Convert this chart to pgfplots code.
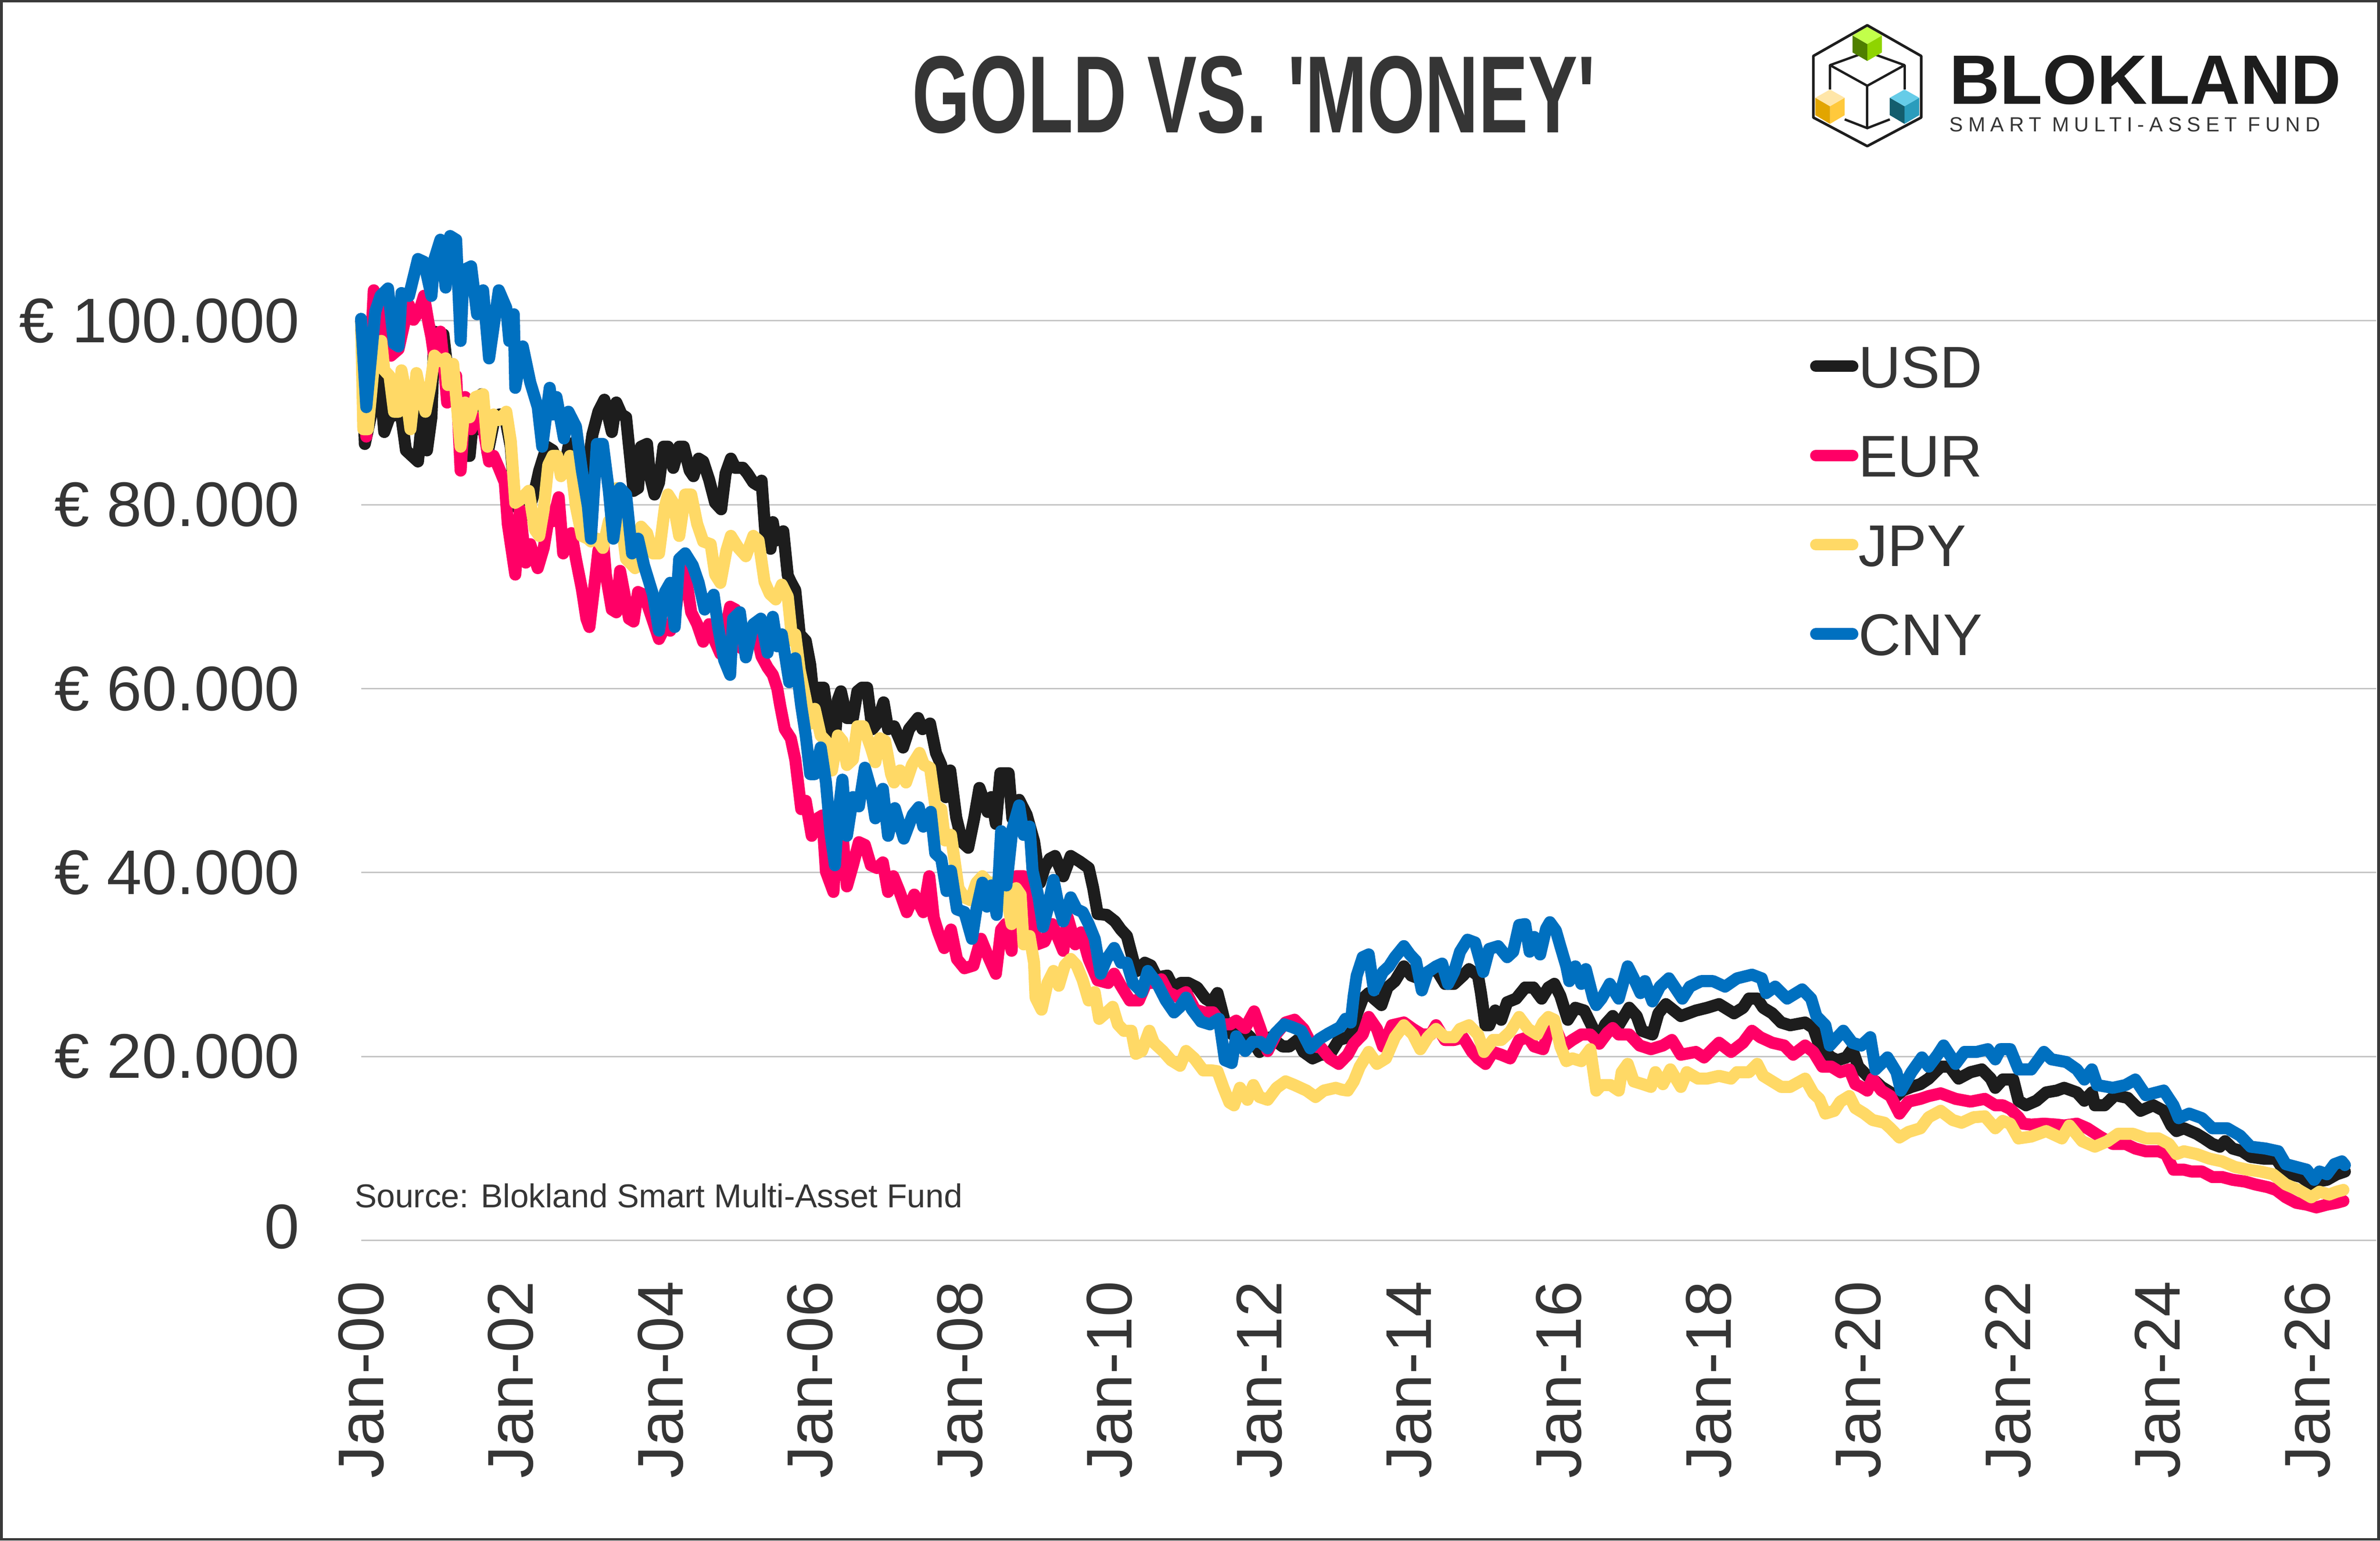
\documentclass[border=0pt]{standalone}
\usepackage{pgfplots}
\pgfplotsset{compat=1.18}
\usepackage{fontspec}
\setmainfont{Liberation Sans}
\definecolor{usd}{HTML}{1D1D1D}
\definecolor{eur}{HTML}{FF0066}
\definecolor{jpy}{HTML}{FFD966}
\definecolor{cny}{HTML}{0070C0}
\definecolor{txt}{HTML}{353535}
\definecolor{gridc}{HTML}{C4C4C4}
\definecolor{framec}{HTML}{3A3A3A}
\definecolor{gA}{HTML}{8FD400}
\definecolor{gB}{HTML}{4F7F00}
\definecolor{gC}{HTML}{C2FF4A}
\definecolor{yA}{HTML}{FFC93C}
\definecolor{yB}{HTML}{E2A500}
\definecolor{yC}{HTML}{FFE6A8}
\definecolor{tA}{HTML}{2A9CBC}
\definecolor{tB}{HTML}{145E6E}
\definecolor{tC}{HTML}{66CCE8}
\begin{document}
\begin{tikzpicture}
\path[use as bounding box, fill=white] (-68.8pt,-57.2pt) rectangle (384.7pt,236.35pt);
\draw[framec, line width=0.5pt] (-68.55pt,-56.95pt) rectangle (384.45pt,236.1pt);
\begin{axis}[
  at={(0pt,0pt)}, anchor=south west,
  scale only axis, width=384pt, height=210.3pt,
  xmin=2000, xmax=2026.92, ymin=0, ymax=120,
  clip=false,
  axis line style={draw=none}, tick style={draw=none},
  ymajorgrids, grid style={gridc, line width=0.28pt},
  ytick={0,20,40,60,80,100},
  yticklabels={\raisebox{5.4pt}{0}, € 20.000, € 40.000, € 60.000, € 80.000, € 100.000},
  xtick={2000,2002,2004,2006,2008,2010,2012,2014,2016,2018,2020,2022,2024,2026},
  xticklabels={Jan-00,Jan-02,Jan-04,Jan-06,Jan-08,Jan-10,Jan-12,Jan-14,Jan-16,Jan-18,Jan-20,Jan-22,Jan-24,Jan-26},
  ticklabel style={font=\fontsize{12}{14}\selectfont, text=txt},
  yticklabel style={anchor=east, inner sep=0pt},
  xticklabel style={rotate=90, anchor=east, inner sep=0pt, font=\fontsize{12.3}{14}\selectfont},
  yticklabel shift=11.5pt, xticklabel shift=7.5pt,
  legend style={at={(axis description cs:0.7185,0.8125)}, anchor=north west, draw=none, fill=none, inner sep=0pt,
    font=\fontsize{11.2}{13}\selectfont, text=txt, row sep=8.8pt, column sep=0pt,
    nodes={inner sep=0pt, text height=8.2pt, text depth=0pt}},
  legend cell align=left,
  legend image code/.code={\draw[#1, line width=2.2pt, line cap=round] (1.1pt,0pt) -- (8.1pt,0pt);},
  every axis plot/.append style={line width=2.3pt, line join=round, line cap=round},
]
\addplot[usd] coordinates {
(2000.00,100)(2000.05,86.6)(2000.17,91.1)(2000.24,94.6)(2000.31,87.9)(2000.38,89.5)(2000.46,89.8)(2000.54,89.5)(2000.60,85.9)(2000.68,85.3)(2000.76,84.7)(2000.82,89.8)(2000.88,85.9)(2000.94,89.5)(2000.98,98.8)
(2001.10,98.5)(2001.15,94.9)(2001.21,91.4)(2001.27,92.0)(2001.35,85.3)(2001.45,85.3)(2001.49,88.8)(2001.57,88.2)(2001.61,92.0)(2001.69,85.6)(2001.77,88.8)(2001.85,89.8)(2001.94,88.8)
(2002.00,86.3)(2002.06,79.8)(2002.12,80.8)(2002.16,79.8)(2002.22,78.9)(2002.32,81.5)(2002.38,83.7)(2002.48,86.3)(2002.56,85.9)(2002.64,84.3)(2002.71,83.4)(2002.77,86.3)(2002.87,86.9)(2002.95,83.4)
(2003.03,84.0)(2003.09,87.6)(2003.17,90.1)(2003.25,91.4)(2003.35,87.9)(2003.41,91.1)(2003.48,89.8)(2003.54,89.5)(2003.64,81.5)(2003.70,81.8)(2003.74,86.3)(2003.82,86.6)(2003.86,83.1)(2003.92,81.1)(2003.98,82.4)
(2004.04,86.3)(2004.10,86.3)(2004.17,84.0)(2004.25,86.3)(2004.31,86.3)(2004.39,83.7)(2004.44,83.1)(2004.51,85.0)(2004.57,84.7)(2004.65,82.7)(2004.73,80.2)(2004.81,79.5)(2004.87,83.4)(2004.94,85.0)
(2005.00,84.0)(2005.10,84.0)(2005.16,83.4)(2005.24,82.4)(2005.30,82.1)(2005.35,82.6)(2005.40,77.0)(2005.47,75.2)(2005.50,78.1)(2005.54,76.1)(2005.64,77.1)(2005.70,72.3)(2005.74,71.6)(2005.80,70.7)(2005.86,65.9)(2005.94,65.2)
(2006.00,62.6)(2006.06,57.8)(2006.12,60.1)(2006.18,60.1)(2006.25,56.2)(2006.31,52.3)(2006.37,58.8)(2006.41,59.7)(2006.49,56.8)(2006.57,56.8)(2006.63,59.7)(2006.69,60.1)(2006.76,60.1)(2006.83,55.6)(2006.89,56.2)(2006.98,58.5)
(2007.04,55.6)(2007.12,55.9)(2007.24,53.6)(2007.32,55.6)(2007.44,56.8)(2007.50,55.6)(2007.60,56.2)(2007.68,53.0)(2007.75,51.7)(2007.81,48.2)(2007.87,51.1)(2007.95,46.0)
(2008.03,43.3)(2008.11,42.7)(2008.19,45.9)(2008.26,49.2)(2008.37,46.6)(2008.42,48.2)(2008.48,45.3)(2008.54,50.8)(2008.65,50.8)(2008.70,45.9)(2008.79,47.9)(2008.89,46.3)(2008.99,43.4)
(2009.07,38.9)(2009.13,40.5)(2009.20,41.5)(2009.27,41.8)(2009.38,39.6)(2009.48,41.8)(2009.60,41.2)(2009.72,40.5)(2009.78,38.3)(2009.84,35.5)(2009.96,35.4)
(2010.07,34.7)(2010.15,33.8)(2010.23,33.1)(2010.31,30.6)(2010.36,29.3)(2010.47,30.2)(2010.55,29.9)(2010.63,28.6)(2010.77,28.8)(2010.85,27.5)(2010.95,28.0)
(2011.05,28.0)(2011.17,27.5)(2011.28,26.3)(2011.36,25.9)(2011.44,26.9)(2011.50,25.0)(2011.56,23.0)(2011.64,22.4)(2011.70,23.7)(2011.76,23.0)(2011.88,22.1)
(2012.00,20.5)(2012.15,22.1)(2012.31,21.1)(2012.40,21.1)(2012.51,21.8)(2012.59,20.5)(2012.71,19.8)(2012.82,20.2)(2012.94,20.2)
(2013.06,21.8)(2013.18,22.1)(2013.26,23.0)(2013.30,24.6)(2013.38,26.3)(2013.46,26.9)(2013.53,26.3)(2013.63,25.6)(2013.71,27.5)(2013.81,28.2)(2013.93,29.8)
(2014.03,28.8)(2014.13,28.5)(2014.25,29.2)(2014.36,29.5)(2014.48,27.9)(2014.60,27.9)(2014.72,28.8)(2014.80,29.5)(2014.92,28.8)(2014.96,26.9)
(2015.02,23.4)(2015.07,23.4)(2015.15,25.0)(2015.23,24.0)(2015.31,25.9)(2015.43,26.3)(2015.55,27.5)(2015.66,27.5)(2015.77,26.3)(2015.86,27.5)(2015.94,27.9)
(2016.02,26.6)(2016.12,24.0)(2016.22,25.3)(2016.34,25.0)(2016.46,23.0)(2016.54,22.1)(2016.62,23.5)(2016.72,24.4)(2016.80,23.4)(2016.94,25.3)
(2017.04,24.4)(2017.11,22.8)(2017.25,22.4)(2017.33,24.7)(2017.43,25.7)(2017.63,24.4)(2017.83,25.0)(2017.98,25.3)
(2018.14,25.7)(2018.34,24.7)(2018.46,25.3)(2018.54,26.3)(2018.65,26.3)(2018.73,25.3)(2018.85,24.7)(2018.97,23.7)
(2019.09,23.4)(2019.29,23.7)(2019.40,23.1)(2019.48,21.2)(2019.56,20.5)(2019.64,19.9)(2019.72,19.6)(2019.84,19.9)(2019.92,20.8)
(2020.00,18.9)(2020.12,17.9)(2020.23,17.3)(2020.31,16.7)(2020.39,16.3)(2020.51,15.7)(2020.59,16.3)(2020.71,16.7)(2020.83,17.0)(2020.94,17.6)
(2021.10,18.9)(2021.22,18.9)(2021.34,17.6)(2021.50,18.3)(2021.65,18.6)(2021.77,17.6)(2021.83,16.6)(2021.93,17.5)
(2022.07,17.5)(2022.14,15.2)(2022.24,14.7)(2022.38,15.2)(2022.51,16.1)(2022.65,16.3)(2022.75,16.6)(2022.92,16.1)
(2023.02,15.2)(2023.12,16.1)(2023.16,14.7)(2023.29,14.7)(2023.43,15.8)(2023.60,15.5)(2023.77,14.1)(2023.94,14.7)
(2024.08,14.1)(2024.18,12.5)(2024.25,11.9)(2024.35,12.2)(2024.52,11.6)(2024.62,11.1)(2024.73,10.5)(2024.83,10.2)(2024.90,10.8)
(2025.00,10.0)(2025.13,9.7)(2025.24,9.1)(2025.41,8.9)(2025.58,8.9)(2025.68,7.7)(2025.78,7.2)(2025.92,6.9)
(2026.05,6.1)(2026.12,6.4)(2026.26,6.6)(2026.39,7.2)(2026.50,7.5)
};
\addlegendentry{USD}
\addplot[eur] coordinates {
(2000.00,100)(2000.07,87.4)(2000.17,103.3)(2000.24,101.4)(2000.31,98.5)(2000.40,96.2)(2000.50,96.9)(2000.58,99.8)(2000.64,101.7)(2000.70,100.1)(2000.78,101.1)(2000.84,102.7)(2000.90,99.8)(2000.94,98.2)(2000.98,95.9)
(2001.06,98.8)(2001.12,94.0)(2001.15,91.1)(2001.21,93.3)(2001.27,94.0)(2001.33,83.7)(2001.39,91.7)(2001.47,88.2)(2001.53,89.5)(2001.63,88.5)(2001.71,84.7)(2001.77,85.3)(2001.84,84.0)(2001.92,82.4)(2001.96,77.9)
(2002.06,72.4)(2002.12,79.5)(2002.20,73.7)(2002.26,75.7)(2002.36,73.1)(2002.44,75.3)(2002.52,79.2)(2002.56,78.2)(2002.64,80.8)(2002.70,74.7)(2002.75,76.6)(2002.81,76.9)(2002.87,74.1)(2002.95,70.8)
(2003.01,67.6)(2003.05,66.7)(2003.13,72.1)(2003.17,75.0)(2003.23,76.3)(2003.27,72.4)(2003.35,68.6)(2003.41,68.3)(2003.46,72.8)(2003.52,70.2)(2003.58,67.6)(2003.64,67.3)(2003.70,70.5)(2003.78,70.2)(2003.86,68.3)(2003.98,65.4)
(2004.06,66.7)(2004.13,66.3)(2004.21,68.9)(2004.29,74.4)(2004.37,70.5)(2004.41,68.3)(2004.49,67.0)(2004.57,65.1)(2004.65,67.0)(2004.73,65.1)(2004.80,63.8)(2004.93,68.9)
(2005.00,68.6)(2005.08,64.4)(2005.16,66.3)(2005.28,66.0)(2005.35,63.5)(2005.43,62.3)(2005.50,61.5)(2005.56,60.0)(2005.60,58.1)(2005.66,55.6)(2005.74,54.6)(2005.80,52.3)(2005.88,46.9)(2005.94,47.8)
(2006.02,44.0)(2006.10,45.9)(2006.16,46.2)(2006.21,40.1)(2006.31,37.9)(2006.37,45.9)(2006.43,44.3)(2006.49,38.5)(2006.57,40.8)(2006.65,43.3)(2006.73,43.0)(2006.81,40.8)(2006.89,40.5)(2006.97,41.1)
(2007.04,37.9)(2007.11,39.6)(2007.19,38.0)(2007.29,35.7)(2007.39,37.6)(2007.51,35.7)(2007.59,39.6)(2007.65,35.1)(2007.71,33.5)(2007.79,31.8)(2007.88,33.8)(2007.96,30.6)
(2008.06,29.6)(2008.18,29.9)(2008.28,32.8)(2008.36,31.2)(2008.48,29.0)(2008.55,33.8)(2008.61,34.4)(2008.69,31.5)(2008.75,39.6)(2008.85,39.6)(2008.93,37.0)
(2009.03,32.2)(2009.13,32.5)(2009.23,34.4)(2009.30,33.1)(2009.38,31.5)(2009.44,35.1)(2009.54,32.2)(2009.62,33.5)(2009.72,30.6)(2009.84,28.3)(2009.98,28.0)
(2010.06,29.0)(2010.15,27.7)(2010.27,26.1)(2010.39,26.1)(2010.49,28.0)(2010.59,28.0)(2010.69,28.4)(2010.78,27.0)(2010.90,26.5)
(2011.02,27.0)(2011.14,25.1)(2011.26,24.8)(2011.38,24.8)(2011.50,23.5)(2011.61,23.5)(2011.69,23.9)(2011.81,23.1)(2011.93,24.9)
(2012.01,23.1)(2012.11,20.6)(2012.23,22.5)(2012.35,23.7)(2012.47,24.0)(2012.59,23.0)(2012.71,21.1)(2012.82,21.0)(2012.94,19.8)
(2013.06,19.2)(2013.18,20.2)(2013.26,21.4)(2013.38,22.4)(2013.46,24.3)(2013.57,23.0)(2013.65,21.1)(2013.77,23.4)(2013.93,23.7)
(2014.05,23.0)(2014.17,22.4)(2014.29,22.4)(2014.36,23.4)(2014.48,21.8)(2014.60,21.8)(2014.72,22.1)(2014.84,20.5)(2014.92,19.8)
(2015.02,19.2)(2015.12,20.5)(2015.23,20.2)(2015.35,19.8)(2015.47,21.8)(2015.59,22.1)(2015.67,21.1)(2015.79,20.8)(2015.86,22.7)(2015.94,23.4)
(2016.06,21.1)(2016.18,21.8)(2016.30,22.4)(2016.42,22.4)(2016.54,21.4)(2016.65,22.6)(2016.72,23.1)(2016.80,22.4)(2016.94,22.4)
(2017.08,21.2)(2017.23,20.8)(2017.39,21.2)(2017.51,21.8)(2017.63,20.2)(2017.83,20.5)(2017.94,19.9)
(2018.14,21.5)(2018.30,20.5)(2018.46,21.5)(2018.58,22.8)(2018.69,22.1)(2018.85,21.5)
(2019.01,21.2)(2019.13,20.2)(2019.29,21.2)(2019.40,20.5)(2019.52,18.9)(2019.64,18.9)(2019.76,18.3)(2019.88,18.6)(2019.96,17.0)
(2020.04,16.7)(2020.12,16.3)(2020.19,17.6)(2020.31,16.3)(2020.43,15.7)(2020.55,13.8)(2020.67,15.1)(2020.83,15.4)(2020.94,15.7)
(2021.10,16.0)(2021.30,15.4)(2021.50,15.1)(2021.69,15.4)(2021.83,14.7)(2021.93,14.7)
(2022.03,14.3)(2022.14,13.4)(2022.20,12.7)(2022.31,12.6)(2022.48,12.7)(2022.65,12.6)(2022.75,12.5)(2022.92,12.7)
(2023.06,12.2)(2023.23,11.3)(2023.40,10.5)(2023.57,10.5)(2023.70,10.0)(2023.84,9.7)
(2024.01,9.7)(2024.11,9.4)(2024.21,7.7)(2024.35,7.7)(2024.45,7.5)(2024.59,7.5)(2024.73,6.9)(2024.86,6.9)
(2025.00,6.6)(2025.17,6.4)(2025.30,6.1)(2025.47,5.8)(2025.58,5.5)(2025.71,4.7)(2025.85,4.1)(2025.99,3.9)
(2026.12,3.6)(2026.26,3.9)(2026.39,4.1)(2026.48,4.3)
};
\addlegendentry{EUR}
\addplot[jpy] coordinates {
(2000.00,100)(2000.03,88.2)(2000.09,88.2)(2000.19,96.9)(2000.27,97.8)(2000.31,94.6)(2000.38,94.0)(2000.44,90.1)(2000.50,90.1)(2000.54,94.6)(2000.60,92.0)(2000.66,88.2)(2000.74,94.3)(2000.80,92.0)(2000.86,90.1)(2000.92,92.7)(2000.98,96.2)
(2001.06,95.6)(2001.13,95.9)(2001.16,93.0)(2001.23,95.3)(2001.33,86.3)(2001.39,91.1)(2001.45,89.5)(2001.53,91.7)(2001.63,92.0)(2001.69,86.3)(2001.77,89.8)(2001.84,89.2)(2001.94,90.1)
(2002.00,86.9)(2002.06,80.2)(2002.12,80.5)(2002.24,81.5)(2002.32,77.3)(2002.38,76.6)(2002.44,79.5)(2002.50,84.3)(2002.56,85.3)(2002.62,85.3)(2002.67,83.1)(2002.73,83.7)(2002.79,85.3)(2002.87,79.8)(2002.95,76.6)
(2003.03,76.3)(2003.07,76.0)(2003.15,76.3)(2003.23,75.3)(2003.31,78.2)(2003.37,77.6)(2003.42,81.8)(2003.54,74.1)(2003.66,73.1)(2003.74,77.6)(2003.82,76.9)(2003.90,74.7)(2003.98,74.7)
(2004.06,79.8)(2004.10,81.1)(2004.17,80.2)(2004.25,76.6)(2004.33,81.1)(2004.41,81.1)(2004.49,77.9)(2004.57,76.0)(2004.67,75.7)(2004.73,72.4)(2004.80,71.5)(2004.88,75.0)(2004.94,76.6)
(2005.04,75.3)(2005.14,74.4)(2005.24,76.6)(2005.31,76.1)(2005.39,71.6)(2005.46,70.3)(2005.54,69.7)(2005.62,71.3)(2005.70,70.0)(2005.76,65.2)(2005.80,65.9)(2005.86,62.0)(2005.94,58.8)
(2006.00,56.2)(2006.06,57.8)(2006.14,54.9)(2006.21,54.3)(2006.29,51.1)(2006.37,54.9)(2006.43,54.3)(2006.49,51.7)(2006.57,52.3)(2006.63,55.9)(2006.71,55.9)(2006.81,53.6)(2006.87,52.0)(2006.93,54.6)
(2007.00,54.3)(2007.08,50.7)(2007.12,49.8)(2007.20,51.1)(2007.28,49.8)(2007.36,51.7)(2007.46,53.0)(2007.52,51.7)(2007.60,51.4)(2007.67,47.3)(2007.75,46.9)(2007.80,43.5)(2007.88,44.1)(2007.98,38.3)
(2008.06,37.3)(2008.14,37.0)(2008.22,38.9)(2008.30,39.6)(2008.38,38.9)(2008.46,38.9)(2008.54,38.6)(2008.61,38.0)(2008.69,34.4)(2008.75,38.3)(2008.81,37.6)(2008.85,32.2)(2008.93,33.1)(2008.99,30.2)
(2009.01,26.4)(2009.09,25.1)(2009.17,28.0)(2009.25,29.3)(2009.32,27.7)(2009.40,29.9)(2009.48,30.6)(2009.56,29.9)(2009.64,28.3)(2009.72,26.1)(2009.80,27.0)(2009.86,24.1)(2009.96,24.8)
(2010.04,25.4)(2010.11,23.5)(2010.19,22.8)(2010.29,22.8)(2010.35,20.3)(2010.43,20.6)(2010.53,22.8)(2010.59,21.5)(2010.71,20.6)(2010.82,19.6)(2010.94,19.0)
(2011.02,20.6)(2011.13,19.8)(2011.25,18.5)(2011.36,18.5)(2011.44,18.4)(2011.52,16.6)(2011.60,15.0)(2011.66,14.7)(2011.74,16.6)(2011.84,15.3)(2011.92,16.9)
(2012.00,15.6)(2012.11,15.3)(2012.23,16.6)(2012.35,17.3)(2012.47,16.9)(2012.63,16.3)(2012.75,15.6)(2012.86,16.3)
(2013.02,16.6)(2013.10,16.4)(2013.18,16.3)(2013.26,17.3)(2013.34,18.9)(2013.46,20.5)(2013.57,19.2)(2013.69,19.8)(2013.81,22.1)(2013.93,23.4)
(2014.05,22.4)(2014.15,20.8)(2014.25,22.1)(2014.36,23.0)(2014.48,22.1)(2014.60,22.1)(2014.68,23.0)(2014.80,23.4)(2014.92,22.4)
(2015.00,20.5)(2015.12,21.8)(2015.23,21.8)(2015.35,22.7)(2015.47,24.3)(2015.59,23.0)(2015.71,22.4)(2015.79,23.7)(2015.86,24.3)(2015.94,24.0)
(2016.02,21.1)(2016.10,19.5)(2016.18,19.8)(2016.30,19.5)(2016.42,20.8)(2016.50,16.3)(2016.57,16.9)(2016.69,16.9)(2016.80,16.3)(2016.84,18.3)(2016.92,19.2)
(2017.00,17.3)(2017.12,17.0)(2017.23,16.7)(2017.29,18.3)(2017.39,17.0)(2017.49,18.6)(2017.63,16.7)(2017.71,18.3)(2017.86,17.6)(2017.98,17.6)
(2018.14,17.9)(2018.30,17.6)(2018.38,18.3)(2018.54,18.3)(2018.65,19.2)(2018.73,17.9)(2018.85,17.3)(2018.97,16.7)
(2019.09,16.7)(2019.29,17.6)(2019.40,16.0)(2019.48,15.4)(2019.56,13.8)(2019.68,14.1)(2019.76,15.1)(2019.88,15.7)(2019.96,14.4)
(2020.08,13.8)(2020.19,13.1)(2020.35,12.8)(2020.43,12.2)(2020.55,11.2)(2020.67,11.8)(2020.83,12.2)(2020.94,13.4)
(2021.10,14.1)(2021.26,13.1)(2021.38,12.8)(2021.54,13.4)(2021.69,13.5)(2021.83,12.2)(2021.93,13.0)
(2022.03,12.7)(2022.14,11.1)(2022.31,11.3)(2022.51,11.9)(2022.72,11.1)(2022.82,12.5)(2022.99,10.8)
(2023.16,10.2)(2023.33,10.8)(2023.47,11.6)(2023.67,11.6)(2023.84,11.1)
(2024.01,11.1)(2024.15,10.5)(2024.25,9.4)(2024.35,9.7)(2024.52,9.4)(2024.69,8.9)(2024.86,8.6)
(2025.03,8.0)(2025.20,7.7)(2025.37,7.5)(2025.54,7.2)(2025.71,6.1)(2025.88,5.5)
(2026.05,4.7)(2026.16,5.3)(2026.29,5.0)(2026.39,5.3)(2026.48,5.5)
};
\addlegendentry{JPY}
\addplot[cny] coordinates {
(2000.00,100.2)(2000.07,90.6)(2000.19,101.0)(2000.26,102.7)(2000.36,103.5)(2000.44,97.5)(2000.50,97.2)(2000.54,103.0)(2000.64,102.7)(2000.76,106.7)(2000.84,106.4)(2000.94,102.7)(2000.98,106.7)
(2001.06,108.8)(2001.13,103.6)(2001.19,109.2)(2001.27,108.8)(2001.33,97.8)(2001.37,105.5)(2001.47,105.9)(2001.55,100.7)(2001.63,103.3)(2001.71,95.9)(2001.84,103.3)(2001.94,101.4)(2001.98,97.8)
(2002.04,100.7)(2002.06,92.7)(2002.16,97.2)(2002.26,93.3)(2002.36,90.6)(2002.42,86.3)(2002.52,92.7)(2002.56,89.8)(2002.61,91.7)(2002.71,87.2)(2002.77,90.1)(2002.87,88.5)(2002.95,83.7)
(2003.03,79.8)(2003.07,76.3)(2003.15,86.6)(2003.23,86.6)(2003.31,81.5)(2003.37,76.3)(2003.46,81.8)(2003.54,81.1)(2003.62,74.7)(2003.70,76.3)(2003.78,73.4)(2003.90,70.2)(2003.98,66.3)
(2004.06,70.5)(2004.13,71.5)(2004.19,66.7)(2004.25,74.1)(2004.33,74.7)(2004.43,73.4)(2004.51,71.5)(2004.59,68.6)(2004.71,70.2)(2004.77,66.7)(2004.85,63.1)(2004.93,61.5)(2004.97,67.6)
(2005.06,68.3)(2005.14,63.4)(2005.24,67.0)(2005.34,67.6)(2005.43,63.9)(2005.50,67.8)(2005.56,64.6)(2005.62,65.9)(2005.72,60.7)(2005.80,63.3)(2005.88,58.1)(2005.94,54.9)
(2006.00,50.7)(2006.06,50.7)(2006.14,53.6)(2006.21,49.8)(2006.27,44.3)(2006.33,40.8)(2006.37,45.9)(2006.43,50.1)(2006.49,44.0)(2006.57,48.2)(2006.65,47.2)(2006.73,51.4)(2006.81,49.1)(2006.87,45.9)(2006.97,49.1)
(2007.04,44.0)(2007.13,47.0)(2007.25,43.7)(2007.37,46.3)(2007.45,47.1)(2007.51,45.0)(2007.61,46.6)(2007.67,42.1)(2007.75,41.5)(2007.82,38.0)(2007.88,40.2)(2007.96,36.0)
(2008.06,35.7)(2008.16,32.8)(2008.22,36.0)(2008.30,38.9)(2008.36,36.3)(2008.42,38.6)(2008.49,35.4)(2008.55,44.5)(2008.62,38.6)(2008.70,44.7)(2008.79,47.3)(2008.85,44.1)(2008.93,45.0)(2008.97,40.2)
(2009.05,37.3)(2009.11,34.1)(2009.17,36.0)(2009.25,39.2)(2009.32,36.3)(2009.38,34.7)(2009.48,37.3)(2009.56,36.0)(2009.64,35.7)(2009.72,34.4)(2009.80,32.8)(2009.88,29.0)(2009.96,30.6)
(2010.06,31.8)(2010.15,30.2)(2010.23,30.2)(2010.31,28.0)(2010.43,27.0)(2010.51,29.3)(2010.63,28.0)(2010.75,26.1)(2010.86,24.8)(2010.94,25.4)
(2011.02,26.4)(2011.10,25.1)(2011.22,23.8)(2011.34,23.5)(2011.46,24.1)(2011.54,19.6)(2011.63,19.3)(2011.69,22.2)(2011.81,20.6)(2011.91,21.6)
(2012.01,21.6)(2012.11,20.9)(2012.21,22.5)(2012.33,23.5)(2012.44,23.2)(2012.56,22.8)(2012.68,20.9)(2012.80,21.9)(2012.92,22.5)
(2013.08,23.2)(2013.15,24.1)(2013.22,23.7)(2013.26,26.6)(2013.30,28.8)(2013.38,30.8)(2013.46,31.1)(2013.53,27.2)(2013.65,29.2)(2013.73,29.8)(2013.81,30.8)(2013.93,32.0)
(2014.01,31.1)(2014.09,30.4)(2014.17,27.2)(2014.25,29.2)(2014.36,29.8)(2014.44,30.1)(2014.52,27.9)(2014.60,29.2)(2014.68,31.4)(2014.78,32.7)(2014.88,32.4)(2014.99,29.2)
(2015.07,31.7)(2015.19,32.0)(2015.31,30.8)(2015.39,31.4)(2015.47,34.3)(2015.55,34.4)(2015.61,31.4)(2015.67,33.0)(2015.75,31.1)(2015.83,33.9)(2015.88,34.6)(2015.96,33.7)
(2016.02,32.0)(2016.10,29.8)(2016.14,28.2)(2016.22,29.8)(2016.30,27.9)(2016.36,29.5)(2016.46,26.3)(2016.50,25.6)(2016.57,26.3)(2016.68,27.9)(2016.80,26.3)(2016.92,29.8)
(2017.00,28.5)(2017.09,26.9)(2017.15,28.2)(2017.25,26.0)(2017.35,27.6)(2017.47,28.5)(2017.65,26.3)(2017.75,27.6)(2017.90,28.2)
(2018.06,28.2)(2018.22,27.6)(2018.38,28.5)(2018.58,28.9)(2018.71,28.5)(2018.77,26.9)(2018.89,27.6)
(2019.05,26.3)(2019.25,27.3)(2019.37,26.3)(2019.44,24.4)(2019.56,23.4)(2019.62,21.2)(2019.72,22.1)(2019.80,22.8)(2019.92,21.5)
(2020.04,21.2)(2020.16,22.1)(2020.23,18.6)(2020.39,19.9)(2020.51,18.3)(2020.57,16.3)(2020.71,18.3)(2020.85,19.9)(2020.94,18.9)
(2021.06,20.2)(2021.14,21.2)(2021.30,19.2)(2021.42,20.5)(2021.58,20.5)(2021.73,20.8)(2021.83,19.7)(2021.90,20.8)
(2022.03,20.8)(2022.14,18.6)(2022.31,18.6)(2022.48,20.5)(2022.58,19.7)(2022.78,19.4)(2022.92,18.6)
(2023.02,17.5)(2023.12,18.6)(2023.19,16.9)(2023.40,16.6)(2023.57,16.9)(2023.70,17.5)(2023.84,15.8)
(2024.08,16.3)(2024.21,14.7)(2024.28,13.3)(2024.42,13.8)(2024.59,13.3)(2024.73,12.2)(2024.93,12.2)
(2025.10,11.4)(2025.24,10.2)(2025.44,10.0)(2025.61,9.7)(2025.71,8.3)(2025.85,8.0)(2025.99,7.7)
(2026.09,6.6)(2026.16,7.5)(2026.26,7.2)(2026.36,8.3)(2026.46,8.6)(2026.50,8.2)
};
\addlegendentry{CNY}
\end{axis}
% title
\node[text=txt, inner sep=0pt, anchor=center] at (170.1pt,218.3pt)
  {\scalebox{0.677}[1]{\fontsize{20.9}{21}\selectfont\bfseries GOLD VS. \textquotesingle MONEY\textquotesingle}};
% logo
\begin{scope}[shift={(287pt,220pt)}, x=1pt, y=1pt]
  \draw[usd, line width=0.45pt, line join=round] (0,6.49)--(7.1,3.93)--(0,0)--(-7.1,3.93)--cycle;
  \draw[usd, line width=0.45pt] (0,0)--(0,-8.07);
  \draw[usd, line width=0.45pt] (-7.1,3.93)--(-7.1,-0.7);
  \draw[usd, line width=0.45pt] (7.1,3.93)--(7.1,-0.7);
  \draw[usd, line width=0.45pt] (-4.3,-6.4)--(0,-8.07)--(4.3,-6.4);
  \fill[gA] (0,7.96)--(2.8,9.59)--(2.8,6.35)--(0,4.73)--cycle;
  \fill[gB] (0,7.96)--(-2.8,9.59)--(-2.8,6.35)--(0,4.73)--cycle;
  \fill[gC] (0,11.34)--(2.8,9.59)--(0,7.96)--(-2.8,9.59)--cycle;
  \fill[yA] (-7.1,-3.9)--(-4.3,-2.28)--(-4.3,-5.6)--(-7.1,-7.26)--cycle;
  \fill[yB] (-7.1,-3.9)--(-9.9,-2.28)--(-9.9,-5.6)--(-7.1,-7.26)--cycle;
  \fill[yC] (-7.1,-0.71)--(-4.3,-2.28)--(-7.1,-3.9)--(-9.9,-2.28)--cycle;
  \fill[tA] (7.1,-3.9)--(9.9,-2.28)--(9.9,-5.6)--(7.1,-7.26)--cycle;
  \fill[tB] (7.1,-3.9)--(4.3,-2.28)--(4.3,-5.6)--(7.1,-7.26)--cycle;
  \fill[tC] (7.1,-0.71)--(9.9,-2.28)--(7.1,-3.9)--(4.3,-2.28)--cycle;
  \draw[usd, line width=0.5pt, line join=round] (0,11.53)--(10.27,5.68)--(10.27,-6.05)--(0,-11.5)--(-10.27,-6.05)--(-10.27,5.68)--cycle;
\end{scope}
\node[anchor=base west, inner sep=0pt, text=usd] at (302.5pt,216.5pt)
  {\fontsize{13.3}{14}\selectfont\bfseries BLOKLAND};
\node[anchor=base west, inner sep=0pt, text=txt] at (302.5pt,211.3pt)
  {\fontsize{3.9}{4}\selectfont\addfontfeature{LetterSpace=25}SMART MULTI-ASSET FUND};
% source
\node[anchor=base west, inner sep=0pt, text=txt] at (-1.4pt,6.3pt)
  {\fontsize{6.3}{7}\selectfont Source: Blokland Smart Multi-Asset Fund};
\end{tikzpicture}
\end{document}
